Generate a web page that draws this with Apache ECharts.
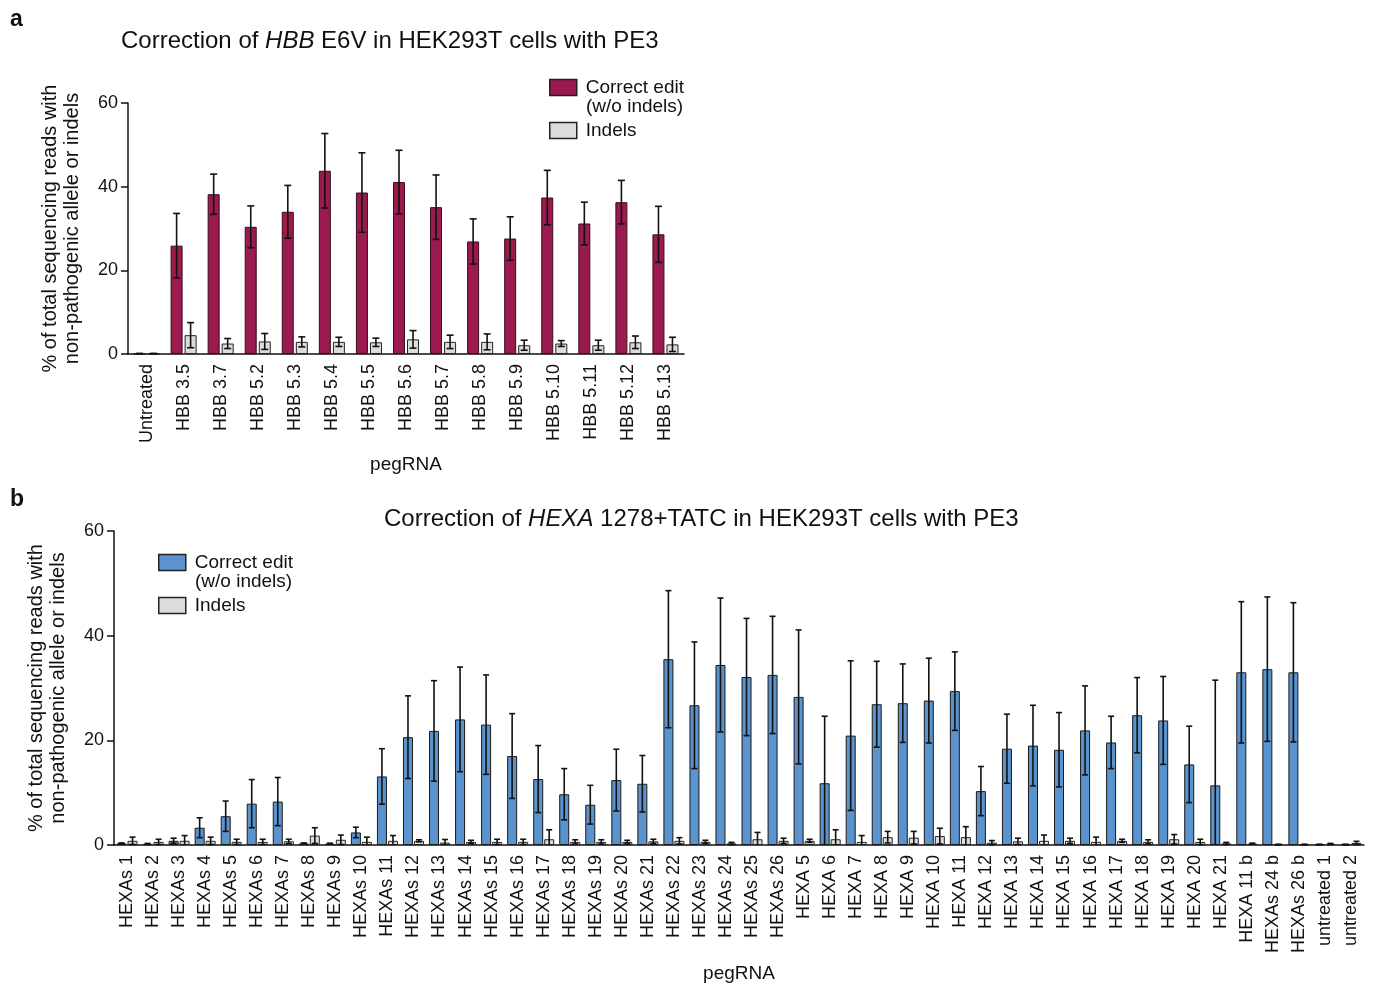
<!DOCTYPE html>
<html>
<head>
<meta charset="utf-8">
<script src="https://cdn.jsdelivr.net/npm/echarts@6/dist/echarts.min.js"></script>
<style>
html, body { margin: 0; padding: 0; background: #fff; }
#chart { width: 1375px; height: 988px; }
</style>
</head>
<body>
<div id="chart"></div>
<script>
// panel a : HBB
var hbbCategories = ['Untreated', 'HBB 3.5', 'HBB 3.7', 'HBB 5.2', 'HBB 5.3', 'HBB 5.4', 'HBB 5.5', 'HBB 5.6',
    'HBB 5.7', 'HBB 5.8', 'HBB 5.9', 'HBB 5.10', 'HBB 5.11', 'HBB 5.12', 'HBB 5.13'];
var hbbCorrect   = [0.1, 25.9, 38.2, 30.4, 34.0, 43.8, 38.6, 41.1, 35.1, 26.9, 27.6, 37.4, 31.2, 36.3, 28.6];
var hbbCorrectSd = [0.05, 7.7, 4.8, 5.0, 6.3, 8.9, 9.5, 7.6, 7.7, 5.4, 5.2, 6.5, 5.1, 5.2, 6.7];
var hbbIndels    = [0.1, 4.5, 2.5, 3.0, 2.9, 2.9, 2.8, 3.5, 2.9, 2.9, 2.1, 2.5, 2.1, 2.8, 2.3];
var hbbIndelsSd  = [0.05, 3.0, 1.2, 1.9, 1.2, 1.1, 1.0, 2.1, 1.6, 1.9, 1.2, 0.7, 1.2, 1.5, 1.7];

// panel b : HEXA
var hexaCategories = ['HEXAs 1', 'HEXAs 2', 'HEXAs 3', 'HEXAs 4', 'HEXAs 5', 'HEXAs 6', 'HEXAs 7', 'HEXAs 8',
    'HEXAs 9', 'HEXAs 10', 'HEXAs 11', 'HEXAs 12', 'HEXAs 13', 'HEXAs 14', 'HEXAs 15', 'HEXAs 16', 'HEXAs 17',
    'HEXAs 18', 'HEXAs 19', 'HEXAs 20', 'HEXAs 21', 'HEXAs 22', 'HEXAs 23', 'HEXAs 24', 'HEXAs 25', 'HEXAs 26',
    'HEXA 5', 'HEXA 6', 'HEXA 7', 'HEXA 8', 'HEXA 9', 'HEXA 10', 'HEXA 11', 'HEXA 12', 'HEXA 13', 'HEXA 14',
    'HEXA 15', 'HEXA 16', 'HEXA 17', 'HEXA 18', 'HEXA 19', 'HEXA 20', 'HEXA 21', 'HEXA 11 b', 'HEXAs 24 b',
    'HEXAs 26 b', 'untreated 1', 'untreated 2'];
var hexaCorrect = [0.3, 0.2, 0.8, 3.3, 5.5, 7.9, 8.3, 0.3, 0.25, 2.4, 13.1, 20.6, 21.8, 24.0, 23.0, 17.0, 12.6,
    9.7, 7.7, 12.4, 11.7, 35.5, 26.7, 34.4, 32.1, 32.5,
    28.3, 11.8, 20.9, 26.9, 27.1, 27.6, 29.4, 10.3, 18.4, 19.0, 18.2, 21.9, 19.6, 24.8, 23.8, 15.4, 11.4,
    33.0, 33.6, 33.0, 0.1, 0.1];
var hexaCorrectSd = [0.1, 0.1, 0.5, 1.9, 2.9, 4.6, 4.6, 0.1, 0.1, 1.0, 5.3, 7.9, 9.6, 10.0, 9.5, 8.1, 6.4,
    4.9, 3.7, 5.9, 5.4, 13.1, 12.1, 12.8, 11.2, 11.2,
    12.8, 12.8, 14.3, 8.2, 7.5, 8.1, 7.5, 4.7, 6.6, 7.7, 7.1, 8.5, 5.0, 7.2, 8.4, 7.3, 20.1,
    13.5, 13.8, 13.3, 0.05, 0.05];
var hexaIndels = [0.8, 0.6, 0.8, 0.8, 0.6, 0.6, 0.7, 1.8, 1.0, 0.6, 0.8, 0.8, 0.45, 0.6, 0.6, 0.6, 1.1,
    0.6, 0.6, 0.6, 0.7, 0.8, 0.6, 0.3, 1.1, 0.8,
    0.8, 1.1, 0.6, 1.5, 1.4, 1.7, 1.5, 0.45, 0.7, 0.8, 0.8, 0.6, 0.8, 0.6, 1.1, 0.6, 0.3,
    0.25, 0.1, 0.1, 0.2, 0.4];
var hexaIndelsSd = [0.7, 0.5, 1.0, 0.7, 0.5, 0.5, 0.4, 1.5, 0.9, 0.9, 1.0, 0.2, 0.6, 0.3, 0.5, 0.5, 1.8,
    0.4, 0.4, 0.3, 0.4, 0.6, 0.3, 0.2, 1.3, 0.5,
    0.3, 1.8, 1.2, 1.1, 1.2, 1.5, 2.0, 0.4, 0.6, 1.1, 0.5, 0.9, 0.3, 0.4, 0.9, 0.5, 0.2,
    0.1, 0.05, 0.05, 0.1, 0.3];

var FONT = 'Liberation Sans, Arial, sans-serif';
var maroon = '#9b1b4e';
var blue = '#5b93cc';
var grey = '#dcdcdc';

// mean +- sd as [index, low, high]
function errData(mean, sd) {
    var out = [];
    for (var i = 0; i < mean.length; i++) {
        out.push([i, Math.max(0, mean[i] - sd[i]), mean[i] + sd[i]]);
    }
    return out;
}

function errorSeries(idx, data, offset, cap) {
    return {
        type: 'custom',
        xAxisIndex: idx,
        yAxisIndex: idx,
        silent: true,
        z: 10,
        data: data,
        encode: { x: 0, y: [1, 2] },
        renderItem: function (params, api) {
            var lo = api.coord([api.value(0), api.value(1)]);
            var hi = api.coord([api.value(0), api.value(2)]);
            var x = lo[0] + offset;
            var st = { stroke: '#111', lineWidth: 1.6 };
            var kids = [
                { type: 'line', shape: { x1: x, y1: hi[1], x2: x, y2: lo[1] }, style: st },
                { type: 'line', shape: { x1: x - cap, y1: hi[1], x2: x + cap, y2: hi[1] }, style: st }
            ];
            if (api.value(1) > 0) {
                kids.push({ type: 'line', shape: { x1: x - cap, y1: lo[1], x2: x + cap, y2: lo[1] }, style: st });
            }
            return { type: 'group', children: kids };
        }
    };
}

function yAxisFor(idx, gap) {
    return {
        type: 'value',
        gridIndex: idx,
        min: 0,
        max: 60,
        interval: 20,
        name: '% of total sequencing reads with\nnon-pathogenic allele or indels',
        nameLocation: 'middle',
        nameGap: gap,
        nameTextStyle: { fontFamily: FONT, fontSize: 20, color: '#111', lineHeight: 22 },
        axisLine: { show: true, lineStyle: { color: '#111', width: 1.5 } },
        axisTick: { show: true, length: 7, lineStyle: { color: '#111', width: 1.5 } },
        axisLabel: { fontFamily: FONT, fontSize: 18, color: '#111', margin: 10 },
        splitLine: { show: false }
    };
}

function xAxisFor(idx, cats, gap) {
    return {
        type: 'category',
        gridIndex: idx,
        data: cats,
        name: 'pegRNA',
        nameLocation: 'middle',
        nameGap: gap,
        nameTextStyle: { fontFamily: FONT, fontSize: 19, color: '#111' },
        axisLine: { show: true, lineStyle: { color: '#111', width: 1.5 } },
        axisTick: { show: false },
        axisLabel: { interval: 0, rotate: 90, fontFamily: FONT, fontSize: 18, color: '#111', margin: 10 }
    };
}

function titleRich() {
    return {
        n: { fontFamily: FONT, fontSize: 24, fontWeight: 'normal', color: '#111' },
        i: { fontFamily: FONT, fontSize: 24, fontWeight: 'normal', fontStyle: 'italic', color: '#111' }
    };
}

function legendFor(left, top, color) {
    return {
        left: left, top: top, orient: 'vertical', icon: 'rect',
        itemWidth: 27, itemHeight: 16, itemGap: 24,
        textStyle: { fontFamily: FONT, fontSize: 19, color: '#111', padding: [0, 0, 0, 4] },
        data: [
            { name: 'Correct edit', itemStyle: { color: color, borderColor: '#222', borderWidth: 1.5 } },
            { name: 'Indels', itemStyle: { color: grey, borderColor: '#222', borderWidth: 1.5 } }
        ]
    };
}

var chart = echarts.init(document.getElementById('chart'));

var option = {
    animation: false,
    backgroundColor: '#fff',
    title: [
        { text: 'a', left: 5, top: 3, textStyle: { fontFamily: FONT, fontSize: 23, fontWeight: 'bold', color: '#111' } },
        { text: 'b', left: 5, top: 483, textStyle: { fontFamily: FONT, fontSize: 23, fontWeight: 'bold', color: '#111' } },
        {
            text: '{n|Correction of }{i|HBB}{n| E6V in HEK293T cells with PE3}',
            left: 116, top: 24,
            textStyle: { fontWeight: 'normal', rich: titleRich() }
        },
        {
            text: '{n|Correction of }{i|HEXA}{n| 1278+TATC in HEK293T cells with PE3}',
            left: 379, top: 502,
            textStyle: { fontWeight: 'normal', rich: titleRich() }
        }
    ],
    legend: [
        legendFor(544, 73, maroon),
        legendFor(153, 548, blue)
    ],
    graphic: [
        { type: 'text', left: 586, top: 97, style: { text: '(w/o indels)', font: '19px ' + FONT, fill: '#111' } },
        { type: 'text', left: 195, top: 572, style: { text: '(w/o indels)', font: '19px ' + FONT, fill: '#111' } }
    ],
    grid: [
        { left: 128, top: 103, width: 556, height: 251 },
        { left: 114, top: 531, width: 1250, height: 314 }
    ],
    xAxis: [
        xAxisFor(0, hbbCategories, 101),
        xAxisFor(1, hexaCategories, 119)
    ],
    yAxis: [
        yAxisFor(0, 45),
        yAxisFor(1, 45)
    ],
    series: [
        {
            name: 'Correct edit', type: 'bar', xAxisIndex: 0, yAxisIndex: 0,
            data: hbbCorrect, barWidth: 12, barGap: '17%',
            itemStyle: { color: maroon, borderColor: '#3a0a1c', borderWidth: 1 }
        },
        {
            name: 'Indels', type: 'bar', xAxisIndex: 0, yAxisIndex: 0,
            data: hbbIndels, barWidth: 12, barGap: '17%',
            itemStyle: { color: grey, borderColor: '#222', borderWidth: 1 }
        },
        errorSeries(0, errData(hbbCorrect, hbbCorrectSd), -7, 3.5),
        errorSeries(0, errData(hbbIndels, hbbIndelsSd), 7, 3.5),
        {
            name: 'Correct edit', type: 'bar', xAxisIndex: 1, yAxisIndex: 1,
            data: hexaCorrect, barWidth: 10, barGap: '10%',
            itemStyle: { color: blue, borderColor: '#1a1a1a', borderWidth: 1 }
        },
        {
            name: 'Indels', type: 'bar', xAxisIndex: 1, yAxisIndex: 1,
            data: hexaIndels, barWidth: 10, barGap: '10%',
            itemStyle: { color: grey, borderColor: '#222', borderWidth: 1 }
        },
        errorSeries(1, errData(hexaCorrect, hexaCorrectSd), -5.5, 3),
        errorSeries(1, errData(hexaIndels, hexaIndelsSd), 5.5, 3)
    ]
};

chart.setOption(option);
</script>
</body>
</html>
